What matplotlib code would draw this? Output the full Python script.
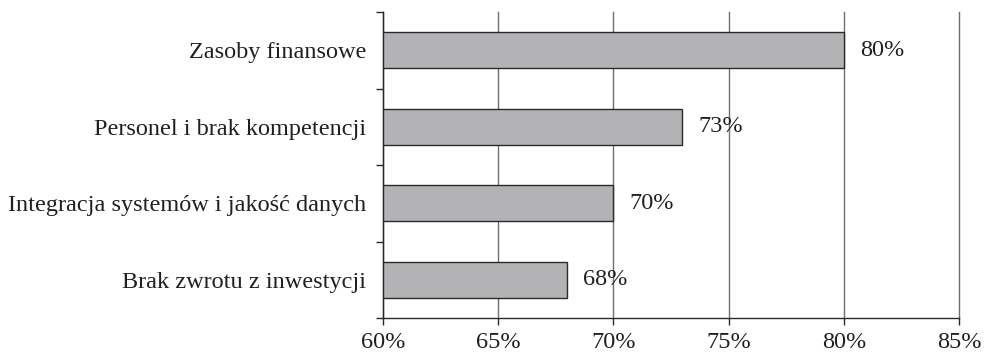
import matplotlib.pyplot as plt
from matplotlib.ticker import FixedLocator

plt.rcParams['font.family'] = ['Liberation Serif', 'DejaVu Serif']

categories = ["Zasoby finansowe", "Personel i brak kompetencji",
              "Integracja systemów i jakość danych", "Brak zwrotu z inwestycji"]
values = [80, 73, 70, 68]
xticks = [60, 65, 70, 75, 80, 85]

fs = 17.5

fig = plt.figure(figsize=(9.84, 3.55), dpi=100)
ax = fig.add_axes([0.389, 0.104, 0.5856, 0.862])

ypos = list(range(len(categories)))[::-1]
ax.set_axisbelow(True)
ax.xaxis.grid(True, color="#6e6e6e", linewidth=1.0, clip_on=False)
ax.barh(ypos, values, height=0.47, left=0, color="#b3b3b6",
        edgecolor="#2a2a2a", linewidth=1.0, zorder=2)

for y, v in zip(ypos, values):
    ax.text(v + 0.7, y, f"{v}%", va="center", ha="left", fontsize=fs, color="#231f20")

ax.set_xlim(60, 85)
ax.set_ylim(-0.5, len(categories) - 0.5)
ax.set_xticks(xticks)
ax.set_xticklabels([f"{t}%" for t in xticks])
ax.set_yticks(ypos)
ax.set_yticklabels(categories)
ax.yaxis.set_minor_locator(FixedLocator([i - 0.5 for i in range(len(categories) + 1)]))
ax.tick_params(axis="y", which="major", length=0, pad=12, labelsize=fs, labelcolor="#231f20")
ax.tick_params(axis="y", which="minor", length=5, width=1.0, color="#2a2a2a")
ax.tick_params(axis="x", length=5, width=1.0, color="#2a2a2a", labelsize=fs,
               labelcolor="#231f20", pad=5)
for gl in ax.xaxis.get_gridlines():
    gl.set_clip_on(False)

for s in ["top", "right"]:
    ax.spines[s].set_visible(False)
for s in ["left", "bottom"]:
    ax.spines[s].set_color("#2a2a2a")
    ax.spines[s].set_linewidth(1.0)

fig.savefig("out.png", dpi=100)
